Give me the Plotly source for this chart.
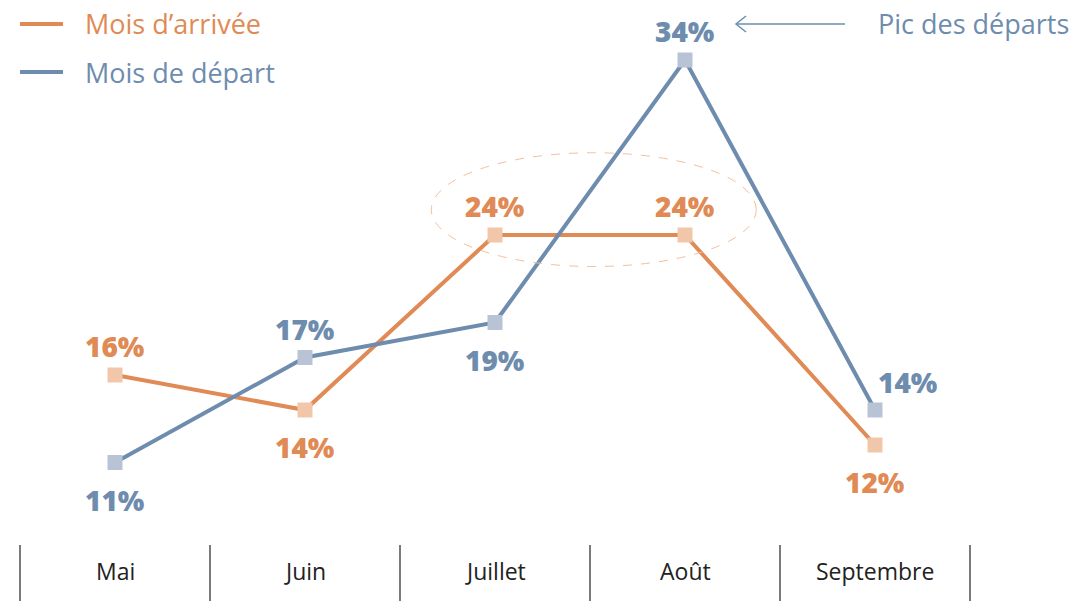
import plotly.graph_objects as go

months = ["Mai", "Juin", "Juillet", "Août", "Septembre"]
arrivee = [16, 14, 24, 24, 12]
depart = [11, 17, 19, 34, 14]
arrivee_pos = ["above", "below", "above", "above", "below"]
depart_pos = ["below", "above", "below", "above", "right"]

ORANGE = "#E08A55"
ORANGE_M = "#F2C6A8"
BLUE = "#6E8CAE"
BLUE_M = "#B9C3D6"
FONT = "Open Sans"

W, H = 1074, 601


def px(xp):
    return xp / W


def py(yp):
    return 1 - yp / H


x = list(range(len(months)))

fig = go.Figure()
fig.add_trace(go.Scatter(x=x, y=arrivee, mode="lines+markers",
                         line=dict(color=ORANGE, width=4),
                         marker=dict(symbol="square", size=15, color=ORANGE_M),
                         showlegend=False, hoverinfo="skip"))
fig.add_trace(go.Scatter(x=x, y=depart, mode="lines+markers",
                         line=dict(color=BLUE, width=4),
                         marker=dict(symbol="square", size=15, color=BLUE_M),
                         showlegend=False, hoverinfo="skip"))

ann = []
shapes = []


def label(xi, v, pos, color):
    d = dict(x=xi, y=v, xref="x", yref="y", text=f"{v}%", showarrow=False,
             font=dict(family=FONT, size=28, color=color, weight=800))
    if pos == "above":
        d.update(yshift=29)
    elif pos == "below":
        d.update(yshift=-37)
    else:
        d.update(xshift=33, yshift=28)
    ann.append(d)


for i, (v, p) in enumerate(zip(arrivee, arrivee_pos)):
    label(i, v, p, ORANGE)
for i, (v, p) in enumerate(zip(depart, depart_pos)):
    label(i, v, p, BLUE)

# category labels and separators
for i, m in enumerate(months):
    ann.append(dict(x=i, y=py(571), xref="x", yref="paper", text=m,
                    showarrow=False, yanchor="middle",
                    font=dict(family=FONT, size=23, color="#222222")))
for k in range(len(months) + 1):
    shapes.append(dict(type="line", xref="x", yref="paper", x0=k - 0.5, x1=k - 0.5,
                       y0=0, y1=py(545), line=dict(color="#222222", width=1.2)))

# highlight ellipse around the 24% plateau
peak = max(arrivee)
i0 = arrivee.index(peak)
shapes.append(dict(type="circle", xref="x", yref="y",
                   x0=i0 - 0.335, x1=i0 + 1 + 0.375, y0=peak - 1.8, y1=peak + 4.7,
                   line=dict(color="#F2C09E", width=1, dash="dash")))

# legend
for yy, txt, col in [(24, "Mois d’arrivée", ORANGE), (72, "Mois de départ", BLUE)]:
    shapes.append(dict(type="line", xref="paper", yref="paper",
                       x0=px(20), x1=px(63), y0=py(yy), y1=py(yy),
                       line=dict(color=col, width=4)))
    ann.append(dict(x=px(83), y=py(yy), xref="paper", yref="paper", text=txt,
                    showarrow=False, xanchor="left", yanchor="middle",
                    font=dict(family=FONT, size=27, color=col)))

# peak annotation
ann.append(dict(x=px(1071), y=py(24), xref="paper", yref="paper",
                text="Pic des départs", showarrow=False, xanchor="right", yanchor="middle",
                font=dict(family=FONT, size=27, color=BLUE)))
ya = py(24)
shapes.append(dict(type="line", xref="paper", yref="paper", x0=px(736), x1=px(845),
                   y0=ya, y1=ya, line=dict(color=BLUE, width=1.5)))
shapes.append(dict(type="path", xref="paper", yref="paper",
                   path=f"M {px(746)} {py(16)} L {px(736)} {ya} L {px(746)} {py(32)}",
                   line=dict(color=BLUE, width=1.5)))

x0px = 115
xu = 190
y0px = 655
yu = 17.5
fig.update_layout(
    width=W, height=H, margin=dict(l=0, r=0, t=0, b=0),
    paper_bgcolor="white", plot_bgcolor="white",
    xaxis=dict(range=[-x0px / xu, (W - x0px) / xu], visible=False, fixedrange=True),
    yaxis=dict(range=[(y0px - H) / yu, y0px / yu], visible=False, fixedrange=True),
    annotations=ann, shapes=shapes, showlegend=False,
)
fig.write_html(
    "out.html",
    config={"displayModeBar": False, "staticPlot": True},
    post_script="document.body.style.margin='0';document.body.style.overflow='hidden';",
)
